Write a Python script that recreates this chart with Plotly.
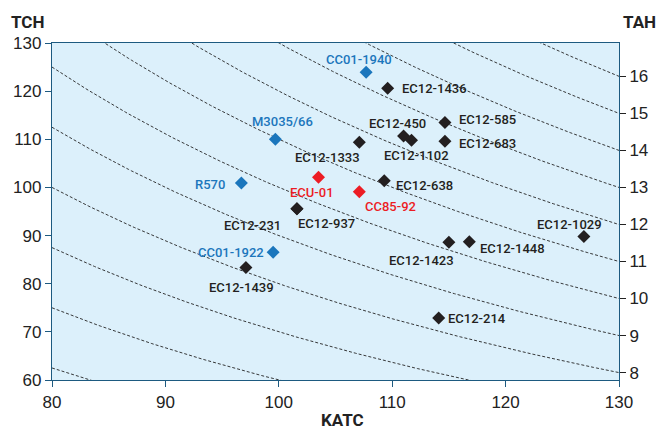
import plotly.graph_objects as go

# ---- data ----
names = ["CC01-1940", "EC12-1436", "M3035/66", "EC12-1333", "EC12-450", "EC12-1102",
         "EC12-585", "EC12-683", "R570", "ECU-01", "CC85-92", "EC12-638",
         "EC12-937", "EC12-231", "CC01-1922", "EC12-1439", "EC12-214",
         "EC12-1423", "EC12-1448", "EC12-1029"]
katc = [107.7, 109.6, 99.7, 107.1, 111.0, 111.7,
        114.65, 114.65, 96.7, 103.5, 107.1, 109.3,
        101.6, 101.6, 99.5, 97.1, 114.1,
        115.0, 116.8, 126.9]
tch = [123.9, 120.6, 110.0, 109.4, 110.7, 109.8,
       113.5, 109.6, 100.9, 102.1, 99.1, 101.4,
       95.55, 95.55, 86.55, 83.35, 72.9,
       88.6, 88.7, 89.8]
group = ["check_blue", "clone", "check_blue", "clone", "clone", "clone",
         "clone", "clone", "check_blue", "check_red", "check_red", "clone",
         "clone", "clone", "check_blue", "clone", "clone",
         "clone", "clone", "clone"]
tah_levels = [5, 6, 7, 8, 9, 10, 11, 12, 13, 14, 15, 16]
tah_ticks = [8, 9, 10, 11, 12, 13, 14, 15, 16]
x_ticks = [80, 90, 100, 110, 120, 130]
y_ticks = [60, 70, 80, 90, 100, 110, 120, 130]

# ---- styling ----
colors = {"clone": "#231f20", "check_blue": "#1b76bc", "check_red": "#ec1c24"}
# label offsets in pixels (dx, dy up)
label_offsets = {
    "CC01-1940": (-7, 13), "EC12-1436": (47, 0), "M3035/66": (7, 18),
    "EC12-1333": (-32, -15), "EC12-450": (-6, 12), "EC12-1102": (5, -15),
    "EC12-585": (43, 3), "EC12-683": (43, -2), "R570": (-31, -1),
    "ECU-01": (-6, -15), "CC85-92": (31, -15), "EC12-638": (40, -5),
    "EC12-937": (30, -15), "EC12-231": (-44, -17), "CC01-1922": (-42, 0),
    "EC12-1439": (-4, -20), "EC12-214": (38, -1), "EC12-1423": (-27, -18),
    "EC12-1448": (43, -7), "EC12-1029": (-14, 12),
}
frame = "#1d5a80"
lab_font = "Roboto, Liberation Sans, sans-serif"
tick_font = "Liberation Sans, Arial, sans-serif"

fig = go.Figure()

# iso-TAH curves: TCH = TAH * 1000 / KATC
xs = [80 + i * 0.25 for i in range(201)]
for t in tah_levels:
    fig.add_trace(go.Scatter(
        x=xs, y=[t * 1000 / k for k in xs], mode="lines",
        line=dict(color="#222222", width=0.9, dash="3px,2px"),
        hoverinfo="skip", showlegend=False))

for g in ["clone", "check_blue", "check_red"]:
    idx = [i for i in range(len(names)) if group[i] == g]
    fig.add_trace(go.Scatter(
        x=[katc[i] for i in idx], y=[tch[i] for i in idx], mode="markers",
        marker=dict(symbol="diamond", size=10, color=colors[g]),
        text=[names[i] for i in idx], showlegend=False))

for i, n in enumerate(names):
    dx, dy = label_offsets[n]
    fig.add_annotation(x=katc[i], y=tch[i], text=n, showarrow=False,
                       xshift=dx, yshift=dy,
                       font=dict(family=lab_font, size=13, weight=500,
                                 color=colors[group[i]]))

# secondary axis (TAH at right edge, KATC = 130)
fig.add_trace(go.Scatter(x=[None], y=[None], yaxis="y2", showlegend=False))

title_font = dict(family=lab_font, size=17, color="#222")
fig.update_layout(
    width=658, height=429,
    margin=dict(l=52, r=39, t=43, b=49),
    paper_bgcolor="white", plot_bgcolor="#dcf0fb",
    xaxis=dict(range=[80, 130], tickvals=x_ticks, showgrid=False, zeroline=False,
               automargin=False,
               ticks="outside", ticklen=6, tickcolor=frame, showline=True,
               linecolor=frame, linewidth=1.3, mirror=True,
               tickfont=dict(family=tick_font, size=17, color="#222")),
    yaxis=dict(range=[60, 130], tickvals=y_ticks, showgrid=False, zeroline=False,
               automargin=False,
               ticks="outside", ticklen=6, tickcolor=frame, showline=True,
               linecolor=frame, linewidth=1.3, mirror=True,
               tickfont=dict(family=tick_font, size=17, color="#222")),
    yaxis2=dict(range=[60, 130], overlaying="y", side="right", automargin=False,
                tickvals=[t * 1000 / 130 for t in tah_ticks],
                ticktext=[str(t) for t in tah_ticks],
                showgrid=False, zeroline=False, ticks="outside", ticklen=6,
                tickcolor="#222", showline=False,
                tickfont=dict(family=tick_font, size=17, color="#222")),
    annotations=list(fig.layout.annotations) + [
        dict(text="<b>TCH</b>", xref="paper", yref="paper", x=-0.044, y=1.063,
             xanchor="center", yanchor="middle", showarrow=False, font=title_font),
        dict(text="<b>TAH</b>", xref="paper", yref="paper", x=1.037, y=1.063,
             xanchor="center", yanchor="middle", showarrow=False, font=title_font),
        dict(text="<b>KATC</b>", xref="paper", yref="paper", x=0.512, y=-0.12,
             xanchor="center", yanchor="middle", showarrow=False, font=title_font),
    ],
)

fig.write_html("out.html", config={"displayModeBar": False},
               post_script="document.body.style.margin='0';document.body.style.overflow='hidden';")
